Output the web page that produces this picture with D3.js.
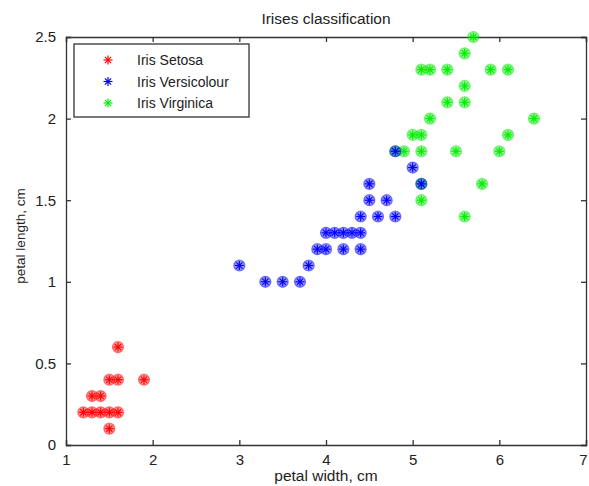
<!DOCTYPE html>
<html>
<head>
<meta charset="utf-8">
<script src="https://cdn.jsdelivr.net/npm/d3@7"></script>
<style>
  body { margin: 0; background: #fff; }
  text { font-family: "Liberation Sans", Arial, sans-serif; fill: #222; }
</style>
</head>
<body>
<svg id="chart" width="589" height="486"></svg>
<script>
// petal width / petal length pairs
const setosaX = [1.6, 1.5, 1.6, 1.9, 1.3, 1.4, 1.2, 1.3, 1.4, 1.5, 1.6, 1.5]
const setosaY = [0.6, 0.4, 0.4, 0.4, 0.3, 0.3, 0.2, 0.2, 0.2, 0.2, 0.2, 0.1]

const versiX = [4.8, 5.0, 4.5, 4.5, 4.7, 4.4, 4.6, 4.8, 4.0, 4.1, 4.2, 4.3, 4.4, 3.9, 4.0, 4.2, 4.4, 3.0, 3.8, 3.3, 3.5, 3.7, 5.1]
const versiY = [1.8, 1.7, 1.6, 1.5, 1.5, 1.4, 1.4, 1.4, 1.3, 1.3, 1.3, 1.3, 1.3, 1.2, 1.2, 1.2, 1.2, 1.1, 1.1, 1.0, 1.0, 1.0, 1.6]

const virgX = [5.7, 5.6, 5.1, 5.2, 5.4, 5.9, 6.1, 5.6, 5.4, 5.6, 5.2, 6.4, 5.0, 5.1, 6.1, 4.8, 4.9, 5.1, 5.5, 6.0, 5.1, 5.8, 5.1, 5.6]
const virgY = [2.5, 2.4, 2.3, 2.3, 2.3, 2.3, 2.3, 2.2, 2.1, 2.1, 2.0, 2.0, 1.9, 1.9, 1.9, 1.8, 1.8, 1.8, 1.8, 1.8, 1.6, 1.6, 1.5, 1.4]

const seriesNames = ["Iris Setosa", "Iris Versicolour", "Iris Virginica"]
const seriesColors = ["#ff0000", "#0000ff", "#00ee00"]

const xTicks = [1, 2, 3, 4, 5, 6, 7]
const yTicks = [0, 0.5, 1, 1.5, 2, 2.5]

const svg = d3.select("#chart")
const plotLeft = 66, plotRight = 586, plotTop = 37, plotBottom = 445

const x = d3.scaleLinear().domain([1, 7]).range([plotLeft, plotRight])
const y = d3.scaleLinear().domain([0, 2.5]).range([plotBottom, plotTop])

const series = [
  { xs: setosaX, ys: setosaY },
  { xs: versiX, ys: versiY },
  { xs: virgX, ys: virgY }
].map((s, i) => ({
  name: seriesNames[i],
  color: seriesColors[i],
  points: s.xs.map((v, j) => [v, s.ys[j]])
}))

// axes box with inward ticks (matlab style)
const axisColor = "#333"
const gx = svg.append("g").attr("transform", `translate(0,${plotBottom})`)
  .call(d3.axisBottom(x).tickValues(xTicks).tickSize(-5).tickPadding(9).tickFormat(d3.format("d")))
const gxTop = svg.append("g").attr("transform", `translate(0,${plotTop})`)
  .call(d3.axisTop(x).tickValues(xTicks).tickSize(-5).tickFormat(""))
const gy = svg.append("g").attr("transform", `translate(${plotLeft},0)`)
  .call(d3.axisLeft(y).tickValues(yTicks).tickSize(-5).tickPadding(10).tickFormat(d => d))
const gyRight = svg.append("g").attr("transform", `translate(${plotRight},0)`)
  .call(d3.axisRight(y).tickValues(yTicks).tickSize(-5).tickFormat(""))

;[gx, gxTop, gy, gyRight].forEach(g => {
  g.selectAll(".domain").attr("stroke", axisColor).attr("stroke-width", 1.3)
  g.selectAll(".tick line").attr("stroke", axisColor).attr("stroke-width", 1.3)
  g.selectAll("text").style("font-size", "15px").attr("fill", "#222")
    .style("font-family", '"Liberation Sans", Arial, sans-serif')
})
// last x label sits on the page edge, pull it in a touch
gx.selectAll(".tick text").filter(d => d === 7).attr("dx", "-3")

// markers: shaded circle plus asterisk
function drawMarker(g, cx, cy, color, withCircle) {
  if (withCircle) {
    g.append("circle")
      .attr("cx", cx).attr("cy", cy).attr("r", 5.5)
      .attr("fill", color).attr("fill-opacity", 0.4)
      .attr("stroke", color).attr("stroke-opacity", 0.5).attr("stroke-width", 1.2)
  }
  const s = 4.5, d = 3.1
  const lines = [[-s, 0, s, 0], [0, -s, 0, s], [-d, -d, d, d], [-d, d, d, -d]]
  lines.forEach(l => {
    g.append("line")
      .attr("x1", cx + l[0]).attr("y1", cy + l[1])
      .attr("x2", cx + l[2]).attr("y2", cy + l[3])
      .attr("stroke", color).attr("stroke-width", 1.2)
  })
}

// virginica first so the overlapping blue marks stay visible
;[series[0], series[2], series[1]].forEach(s => {
  const g = svg.append("g")
  s.points.forEach(p => drawMarker(g, x(p[0]), y(p[1]), s.color, true))
})

// title and labels
svg.append("text").attr("x", (plotLeft + plotRight) / 2).attr("y", 24)
  .attr("text-anchor", "middle").style("font-size", "15.5px").text("Irises classification")
svg.append("text").attr("x", (plotLeft + plotRight) / 2).attr("y", 481)
  .attr("text-anchor", "middle").style("font-size", "15.5px").text("petal width, cm")
svg.append("text").attr("transform", "translate(25,236) rotate(-90)")
  .attr("text-anchor", "middle").style("font-size", "13.5px").text("petal length, cm")

// legend
const legend = svg.append("g")
legend.append("rect").attr("x", 74).attr("y", 44).attr("width", 175).attr("height", 73)
  .attr("fill", "#fff").attr("stroke", axisColor).attr("stroke-width", 1.3)
series.forEach((s, i) => {
  const ly = 60 + i * 21.5
  drawMarker(legend, 108, ly, s.color, false)
  legend.append("text").attr("x", 137).attr("y", ly + 5)
    .style("font-size", "14px").text(s.name)
})
</script>
</body>
</html>
